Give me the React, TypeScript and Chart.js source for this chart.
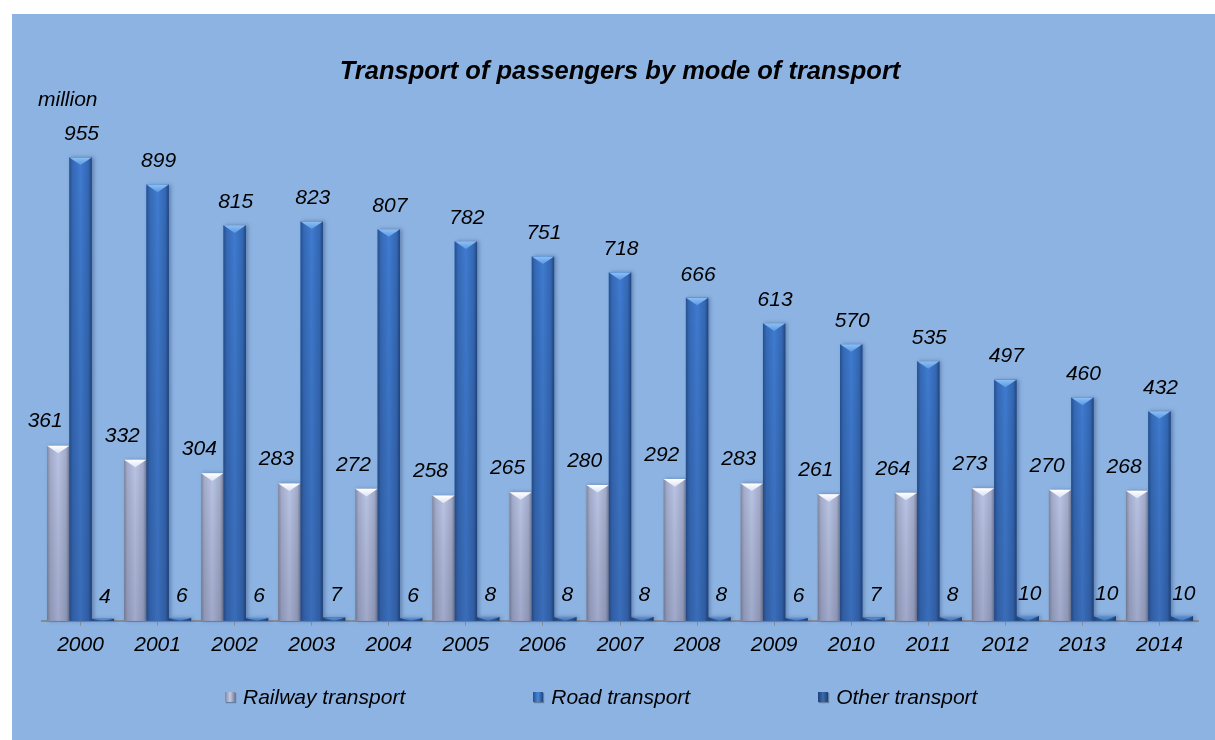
import React, { useEffect, useRef } from "react";
import { Chart, registerables } from "chart.js";

Chart.register(...registerables);

const years = ["2000", "2001", "2002", "2003", "2004", "2005", "2006", "2007", "2008", "2009", "2010", "2011", "2012", "2013", "2014"];
const railway = [361, 332, 304, 283, 272, 258, 265, 280, 292, 283, 261, 264, 273, 270, 268];
const road = [955, 899, 815, 823, 807, 782, 751, 718, 666, 613, 570, 535, 497, 460, 432];
const other = [4, 6, 6, 7, 6, 8, 8, 8, 8, 6, 7, 8, 10, 10, 10];
const seriesNames = ["Railway transport", "Road transport", "Other transport"];
const titleText = "Transport of passengers by mode of transport";
const unitText = "million";
const yMax = 1000;

const FONT = "'Liberation Sans', Arial, sans-serif";

type Look = {
  base: string;
  stops: [number, string][];
  top: string;
  topMid: string;
  dx: number;
  dy: number;
};

const looks: Look[] = [
  {
    base: "#A7B0D0",
    stops: [[0, "#80879F"], [0.15, "#A3ACCB"], [0.5, "#B9C3E4"], [0.85, "#A2ABCA"], [1, "#767D97"]],
    top: "#FFFFFF",
    topMid: "#DCE3F5",
    dx: -13,
    dy: -24,
  },
  {
    base: "#3A74C6",
    stops: [[0, "#24508F"], [0.15, "#3569B5"], [0.5, "#3F7BD0"], [0.85, "#3467B2"], [1, "#1F4680"]],
    top: "#8CC0F6",
    topMid: "#5C98E2",
    dx: 1,
    dy: -23,
  },
  {
    base: "#2F5E9E",
    stops: [[0, "#204680"], [0.2, "#2C5A98"], [0.5, "#3465A8"], [0.8, "#2C5A98"], [1, "#1D4076"]],
    top: "#5E93D6",
    topMid: "#3F74BA",
    dx: 2,
    dy: -22,
  },
];

const bevelPlugin = {
  id: "bevelBars",
  afterDatasetsDraw(chart: any) {
    const ctx: CanvasRenderingContext2D = chart.ctx;
    chart.data.datasets.forEach((ds: any, di: number) => {
      const meta = chart.getDatasetMeta(di);
      const look = looks[di];
      meta.data.forEach((el: any, i: number) => {
        const { x, y, base, width } = el.getProps(["x", "y", "base", "width"], true);
        const l = x - width / 2;
        const r = x + width / 2;
        const t = Math.min(y, base);
        const b = Math.max(y, base);
        const h = b - t;
        ctx.save();
        ctx.shadowColor = "rgba(20,40,80,0.35)";
        ctx.shadowBlur = 4;
        ctx.shadowOffsetX = 2;
        const g = ctx.createLinearGradient(l, 0, r, 0);
        look.stops.forEach(([o, c]) => g.addColorStop(o, c));
        ctx.fillStyle = g;
        ctx.fillRect(l, t, width, h);
        ctx.restore();

        ctx.save();
        const vg = ctx.createLinearGradient(0, t, 0, b);
        vg.addColorStop(0, "rgba(0,0,0,0)");
        vg.addColorStop(1, "rgba(30,35,70,0.16)");
        ctx.fillStyle = vg;
        ctx.fillRect(l, t, width, h);

        const th = Math.min(h, width * 0.34);
        const tg = ctx.createLinearGradient(0, t, 0, t + th);
        tg.addColorStop(0, look.top);
        tg.addColorStop(1, look.topMid);
        ctx.fillStyle = tg;
        ctx.beginPath();
        ctx.moveTo(l, t);
        ctx.lineTo(r, t);
        ctx.lineTo(x, t + th);
        ctx.closePath();
        ctx.fill();
        ctx.restore();

        // value label
        ctx.save();
        ctx.font = `italic 21px ${FONT}`;
        ctx.fillStyle = "#000";
        ctx.textAlign = "center";
        ctx.textBaseline = "middle";
        ctx.fillText(String(ds.data[i]), x + look.dx, t + look.dy);
        ctx.restore();
      });
    });
    // unit label
    ctx.save();
    ctx.font = `italic 21px ${FONT}`;
    ctx.fillStyle = "#000";
    ctx.textAlign = "left";
    ctx.textBaseline = "middle";
    ctx.fillText(unitText, 26, 86);
    ctx.restore();
  },
};

const markerBg = [
  "linear-gradient(90deg,#80879F,#C4CCEA,#767D97)",
  "linear-gradient(90deg,#24508F,#4A88DA,#1F4680)",
  "linear-gradient(90deg,#1D4076,#3A6CB0,#1D4076)",
];

export default function App() {
  const ref = useRef<HTMLCanvasElement | null>(null);

  useEffect(() => {
    if (!ref.current) return;
    const chart = new Chart(ref.current, {
      type: "bar",
      data: {
        labels: years,
        datasets: [railway, road, other].map((d, i) => ({
          label: seriesNames[i],
          data: d,
          backgroundColor: looks[i].base,
          borderWidth: 0,
          categoryPercentage: 0.87,
          barPercentage: 1,
        })),
      },
      options: {
        responsive: true,
        maintainAspectRatio: false,
        animation: false,
        layout: { padding: { left: 30, right: 17, top: 0, bottom: 75 } },
        plugins: {
          legend: { display: false },
          tooltip: { enabled: false },
          title: {
            display: true,
            text: titleText,
            color: "#000",
            font: { family: FONT, size: 25.5, weight: "bold", style: "italic" },
            padding: { top: 43, bottom: 48 },
          },
        },
        scales: {
          x: {
            grid: {
              display: true,
              drawOnChartArea: false,
              drawTicks: true,
              tickLength: 5,
              offset: false,
              color: "#8A8F99",
            },
            border: { display: true, color: "#858A94", width: 2 },
            ticks: {
              color: "#000",
              padding: 7,
              font: { family: FONT, size: 21, style: "italic" },
            },
          },
          y: {
            display: false,
            min: 0,
            max: yMax,
          },
        },
      },
      plugins: [bevelPlugin],
    });
    return () => chart.destroy();
  }, []);

  return (
    <div
      style={{
        position: "absolute",
        left: 12,
        top: 14,
        width: 1203,
        height: 726,
        background: "#8DB3E2",
      }}
    >
      <canvas ref={ref} />
      <div
        style={{
          position: "absolute",
          left: 213,
          top: 671,
          display: "flex",
          alignItems: "center",
          gap: 128,
          fontFamily: FONT,
          fontStyle: "italic",
          fontSize: 21,
          lineHeight: "24px",
          color: "#000",
          whiteSpace: "nowrap",
        }}
      >
        {seriesNames.map((n, i) => (
          <div key={n} style={{ display: "flex", alignItems: "center" }}>
            <span
              style={{
                display: "inline-block",
                width: 10,
                height: 10,
                marginRight: 8,
                background: markerBg[i],
                boxShadow: "1px 1px 1px rgba(0,0,0,0.3)",
              }}
            />
            <span>{n}</span>
          </div>
        ))}
      </div>
    </div>
  );
}
